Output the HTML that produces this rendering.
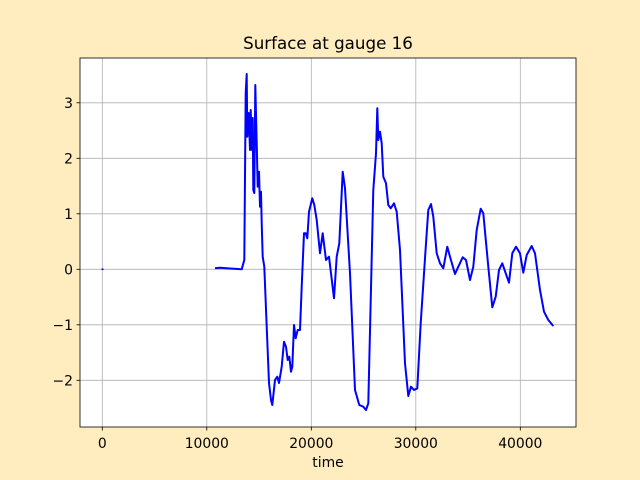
<!DOCTYPE html>
<html><head><style>body{margin:0;background:#ffedbf}svg{display:block}</style></head><body>
<svg width="640" height="480" viewBox="0 0 640 480" xmlns="http://www.w3.org/2000/svg" font-family="DejaVu Sans, Liberation Sans, sans-serif">
<rect width="640" height="480" fill="#ffedbf"/>
<rect x="80" y="58" width="496" height="369" fill="#fff"/>
<g stroke="#b0b0b0" stroke-width="0.8">
<line x1="102.3" y1="58" x2="102.3" y2="427"/><line x1="206.8" y1="58" x2="206.8" y2="427"/><line x1="311.3" y1="58" x2="311.3" y2="427"/><line x1="415.8" y1="58" x2="415.8" y2="427"/><line x1="520.3" y1="58" x2="520.3" y2="427"/>
<line x1="80" y1="102.8" x2="576" y2="102.8"/><line x1="80" y1="158.3" x2="576" y2="158.3"/><line x1="80" y1="213.8" x2="576" y2="213.8"/><line x1="80" y1="269.3" x2="576" y2="269.3"/><line x1="80" y1="324.8" x2="576" y2="324.8"/><line x1="80" y1="380.3" x2="576" y2="380.3"/>
</g>
<polyline fill="none" stroke="#0000ff" stroke-width="2" stroke-linejoin="round" points="215,268.3 220,267.8 230,268.5 241.7,269.3 244.3,260 245.7,93 246.7,74 247.3,136.7 248.7,113 250,150 250.7,110 252,150 252.7,118 253.3,190 254.3,193 255.3,85 256.7,143 257.7,186.7 259,171.7 260,206.7 261,191.7 261.7,223 262.7,256.7 264.3,266.7 266.7,326.7 269,383 271,400 272.3,405 275,380 277.3,376.7 279,383 281.7,366.7 284,341.7 286,346.7 287.7,360 289.3,356.7 291,371.7 292.3,366.7 294,325 295.7,338.3 297.7,330 300,330 301.7,286.7 304,233.3 305.7,233.3 307.3,238.3 309,211.7 312.3,198.3 314.3,205 316.7,220 320,253.3 322.7,233.3 326,260 329,256.7 331,273.3 334,298.3 336.7,256.7 339.3,243.3 342.7,171.7 345,188.3 350,273.3 355,390 359.3,405 363.3,406.7 366,410 368.3,403.3 373.3,190 376,153.3 377.3,108.3 378.3,140 380,131.7 381.7,143.3 383.3,176.7 386,183.3 388.3,205 390.7,208.3 394,203.3 396.7,211.7 400,250 405,363.3 408.3,396 411,386.7 414,390 417.3,388.3 420.7,323.3 426,243.3 428.3,210 431,204 433.3,216.7 436.7,253.3 440,263.3 443.3,268.3 447.3,246.7 450,256.7 455,274 458.3,266.7 462.7,257.3 466,260 470,280 473.3,266.7 476.7,230 480.7,208.7 483.3,213.3 488.3,266.7 492.3,307.3 495.7,296.7 499,270 502.3,263.3 505.7,273.3 509,282.7 512.3,253.3 516,246.7 520,253.3 523.3,272.7 526.7,255 531.7,246 535,253.3 540,290 544,311.7 548.3,320 553.3,326"/>
<line x1="101.5" y1="269.3" x2="103.5" y2="269.3" stroke="#0000ff" stroke-width="1.5"/>
<rect x="80" y="58" width="496" height="369" fill="none" stroke="#000" stroke-width="0.8"/>
<g stroke="#000" stroke-width="0.8">
<line x1="102.3" y1="427" x2="102.3" y2="430.5"/><line x1="206.8" y1="427" x2="206.8" y2="430.5"/><line x1="311.3" y1="427" x2="311.3" y2="430.5"/><line x1="415.8" y1="427" x2="415.8" y2="430.5"/><line x1="520.3" y1="427" x2="520.3" y2="430.5"/>
<line x1="76.5" y1="102.8" x2="80" y2="102.8"/><line x1="76.5" y1="158.3" x2="80" y2="158.3"/><line x1="76.5" y1="213.8" x2="80" y2="213.8"/><line x1="76.5" y1="269.3" x2="80" y2="269.3"/><line x1="76.5" y1="324.8" x2="80" y2="324.8"/><line x1="76.5" y1="380.3" x2="80" y2="380.3"/>
</g>
<g font-size="13.9" fill="#000" text-anchor="middle">
<text x="102.3" y="448">0</text><text x="206.8" y="448">10000</text><text x="311.3" y="448">20000</text><text x="415.8" y="448">30000</text><text x="520.3" y="448">40000</text>
</g>
<g font-size="13.9" fill="#000" text-anchor="end">
<text x="73" y="108">3</text><text x="73" y="163.5">2</text><text x="73" y="219">1</text><text x="73" y="274.5">0</text><text x="73" y="330">−1</text><text x="73" y="385.5">−2</text>
</g>
<text x="328" y="467" font-size="13.9" text-anchor="middle">time</text>
<text x="328" y="49" font-size="16.7" text-anchor="middle">Surface at gauge 16</text>
</svg>
</body></html>
